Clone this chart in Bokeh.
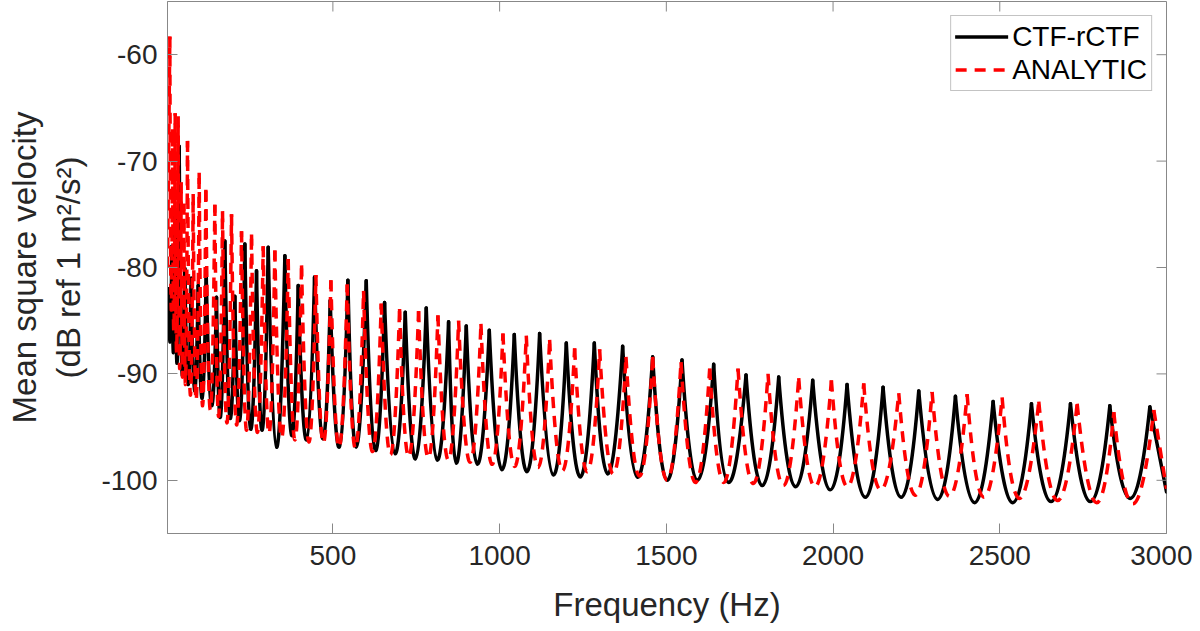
import math
from bokeh.plotting import figure
from bokeh.models import Range1d, FixedTicker, Legend, LegendItem
from bokeh.embed import file_html
from bokeh.resources import INLINE

# ---- data (resonance peaks and troughs) ----
ctf_peak_f = [8, 17, 27, 39, 56, 75, 96, 120, 151, 176, 206, 236, 271, 306, 356, 396, 445, 492,
              545, 600, 655, 717, 780, 847, 900, 969, 1044, 1120, 1200, 1284, 1369, 1459, 1547,
              1642, 1739, 1837, 1939, 2042, 2150, 2257, 2367, 2480, 2595, 2712, 2830, 2950]
ctf_peak_db = [-82, -78, -75, -68.6, -80.1, -81, -81.7, -80.5, -82.8, -77.5, -82.7, -77.8, -80.3,
               -78.1, -78.9, -81.7, -80.9, -83.1, -81.2, -81.25, -83.3, -84.2, -83.8, -85.1, -85.5,
               -85.9, -86.3, -86.2, -87.1, -87.1, -87.4, -88.4, -88.7, -89.1, -90.1, -90.3, -90.6,
               -91.0, -91.25, -91.6, -92.1, -92.6, -92.8, -92.8, -93.0, -93.1]
ctf_trough_f = [4, 12, 22, 33, 47, 66, 85, 108, 136, 163, 191, 221, 253, 288, 331, 376, 421, 470,
                520, 567, 627, 687, 747, 812, 867, 932, 1007, 1082, 1162, 1242, 1322, 1412, 1502,
                1592, 1682, 1787, 1887, 1992, 2097, 2204, 2314, 2424, 2540, 2654, 2772, 2892, 3000]
ctf_trough_db = [-86, -87, -88, -89, -90.2, -91, -91.6, -92.3, -93, -94.1, -94.2, -94.4, -95.2,
                 -95.3, -96.9, -95.8, -96.2, -96.1, -96.9, -96.9, -97.2, -97.5, -98, -98.1, -98.4,
                 -98.5, -99, -99.2, -99.5, -99.7, -99.4, -99.7, -100, -100, -100.2, -100.5, -100.6,
                 -100.9, -101.6, -101.6, -101.8, -102.1, -102.1, -102, -102, -101.7, -101.1]

ana_peak_f = [11, 19, 27, 36, 45, 53, 64, 81, 99, 119, 146, 169, 196, 226, 256, 291, 326, 366, 406,
              449, 494, 543, 592, 645, 700, 757, 815, 877, 944, 1010, 1080, 1150, 1225, 1300, 1379,
              1459, 1544, 1630, 1715, 1805, 1897, 1995, 2092, 2197, 2297, 2402, 2507, 2617, 2732,
              2842, 2962]
ana_peak_db = [-58.3, -67, -65.5, -65.8, -72, -74, -68.1, -73.1, -71.1, -72.7, -74.1, -74.7, -75,
               -76.6, -76.9, -78, -78.4, -79.2, -79.8, -80.7, -81.2, -81.6, -82.2, -83.4, -83.9,
               -84.1, -84.5, -85, -85.3, -86.2, -86.4, -86.8, -87.6, -87.7, -88.4, -88.4, -88.9,
               -89.5, -89.5, -90, -90.4, -90.6, -90.9, -91.8, -91.7, -91.9, -92.2, -92.6, -92.8,
               -93.6, -93.4]
ana_trough_f = [4, 15, 23, 31, 40, 49, 58, 72, 90, 109, 132, 157, 182, 211, 241, 273, 308, 346, 386,
                428, 471, 518, 567, 618, 672, 726, 786, 846, 912, 977, 1045, 1115, 1188, 1263, 1341,
                1420, 1502, 1587, 1672, 1760, 1850, 1945, 2042, 2140, 2247, 2348, 2450, 2555, 2672,
                2792, 2897, 3000]
ana_trough_db = [-80, -84, -86, -88, -89.5, -90.3, -91, -92, -92.5, -93, -93.4, -94, -94.6, -94.8,
                 -95.3, -95.5, -95.6, -96, -96.2, -96.4, -96.5, -96.9, -97, -97.3, -97.6, -97.8,
                 -97.9, -98.1, -98.3, -98.5, -98.7, -98.8, -99.1, -99.2, -99.4, -99.6, -100, -100.2,
                 -100.2, -100.3, -100.5, -100.6, -100.6, -100.9, -101.4, -101.5, -101.6, -101.7,
                 -101.9, -102.1, -102.2, -100.8]

x_ticks = [500, 1000, 1500, 2000, 2500, 3000]
y_ticks = [-100, -90, -80, -70, -60]
series_names = ["CTF-rCTF", "ANALYTIC"]
x_lim = (4, 3000)
y_lim = (-105, -55)


def segments(pf, pd, tf, td):
    """Quadratic segments peak -> peak whose lowest point sits on the trough read between them."""
    x0, y0, x1, y1, cx, cy = [], [], [], [], [], []
    x0.append(tf[0]); y0.append(td[0]); x1.append(pf[0]); y1.append(pd[0])
    cx.append((tf[0] + pf[0]) / 2); cy.append((td[0] + pd[0]) / 2)
    for i in range(len(pf) - 1):
        a, b, t = pd[i], pd[i + 1], td[i + 1]
        x0.append(pf[i]); y0.append(a); x1.append(pf[i + 1]); y1.append(b)
        cx.append(tf[i + 1]); cy.append(t - math.sqrt(max(a - t, 0) * max(b - t, 0)))
    x0.append(pf[-1]); y0.append(pd[-1]); x1.append(tf[-1]); y1.append(td[-1])
    cx.append((pf[-1] + tf[-1]) / 2); cy.append((pd[-1] + td[-1]) / 2)
    return dict(x0=x0, y0=y0, x1=x1, y1=y1, cx=cx, cy=cy)


FONT = "Liberation Sans"
AX = "#888888"
TXT = "#262626"

p = figure(width=1192, height=631, output_backend="svg", toolbar_location=None,
           x_range=Range1d(*x_lim), y_range=Range1d(*y_lim),
           min_border_left=167, min_border_right=26, min_border_top=1, min_border_bottom=98)
p.xgrid.visible = False
p.ygrid.visible = False
p.outline_line_color = AX
p.outline_line_width = 1
p.background_fill_color = "white"
p.border_fill_color = "white"

black_style = dict(line_color="black", line_width=3.5, line_cap="round")
red_style = dict(line_color="#ff0000", line_width=3.5, line_dash="11 8")

s1 = segments(ctf_peak_f, ctf_peak_db, ctf_trough_f, ctf_trough_db)
s2 = segments(ana_peak_f, ana_peak_db, ana_trough_f, ana_trough_db)
p.quadratic(x0="x0", y0="y0", x1="x1", y1="y1", cx="cx", cy="cy", source=s1, **black_style)
p.quadratic(x0="x0", y0="y0", x1="x1", y1="y1", cx="cx", cy="cy", source=s2, **red_style)

# legend proxies (single point of each series: draws nothing in the plot area)
r1 = p.line([ctf_trough_f[0]], [ctf_trough_db[0]], **black_style)
r2 = p.line([ana_trough_f[0]], [ana_trough_db[0]], **red_style)

# inner ticks on top and right edges (MATLAB box style)
p.ray(x=x_ticks, y=[y_lim[1]] * len(x_ticks), length=10, length_units="screen",
      angle=-math.pi / 2, line_color=AX, line_width=1)
p.ray(x=[x_lim[1]] * len(y_ticks), y=y_ticks, length=10, length_units="screen",
      angle=math.pi, line_color=AX, line_width=1)


def style(ax, ticks):
    ax.ticker = FixedTicker(ticks=ticks)
    ax.major_label_overrides = {t: str(t) for t in ticks}
    ax.axis_line_color = AX
    ax.major_tick_line_color = AX
    ax.major_tick_in = 10
    ax.major_tick_out = 0
    ax.minor_tick_line_color = None
    ax.major_label_text_font = FONT
    ax.major_label_text_color = TXT
    ax.major_label_text_font_size = "28px"
    ax.axis_label_text_font = FONT
    ax.axis_label_text_font_size = "33px"
    ax.axis_label_text_font_style = "normal"
    ax.axis_label_text_color = TXT


style(p.xaxis[0], x_ticks)
style(p.yaxis[0], y_ticks)
p.xaxis[0].axis_label = "Frequency (Hz)"
p.yaxis[0].axis_label = "Mean square velocity\n(dB ref 1 m²/s²)"
p.xaxis[0].major_label_standoff = 12
p.yaxis[0].major_label_standoff = 10
p.xaxis[0].axis_label_standoff = 18
p.yaxis[0].axis_label_standoff = 11

legend = Legend(items=[LegendItem(label=series_names[0], renderers=[r1]),
                       LegendItem(label=series_names[1], renderers=[r2])],
                location="top_right", margin=14, padding=4, spacing=0,
                glyph_width=53, glyph_height=33, label_height=33, label_standoff=4,
                label_text_font=FONT, label_text_font_size="28px", label_text_color="black",
                border_line_color=AX, border_line_width=1, background_fill_alpha=1)
p.add_layout(legend)

open("out.html", "w").write(file_html(p, INLINE))
